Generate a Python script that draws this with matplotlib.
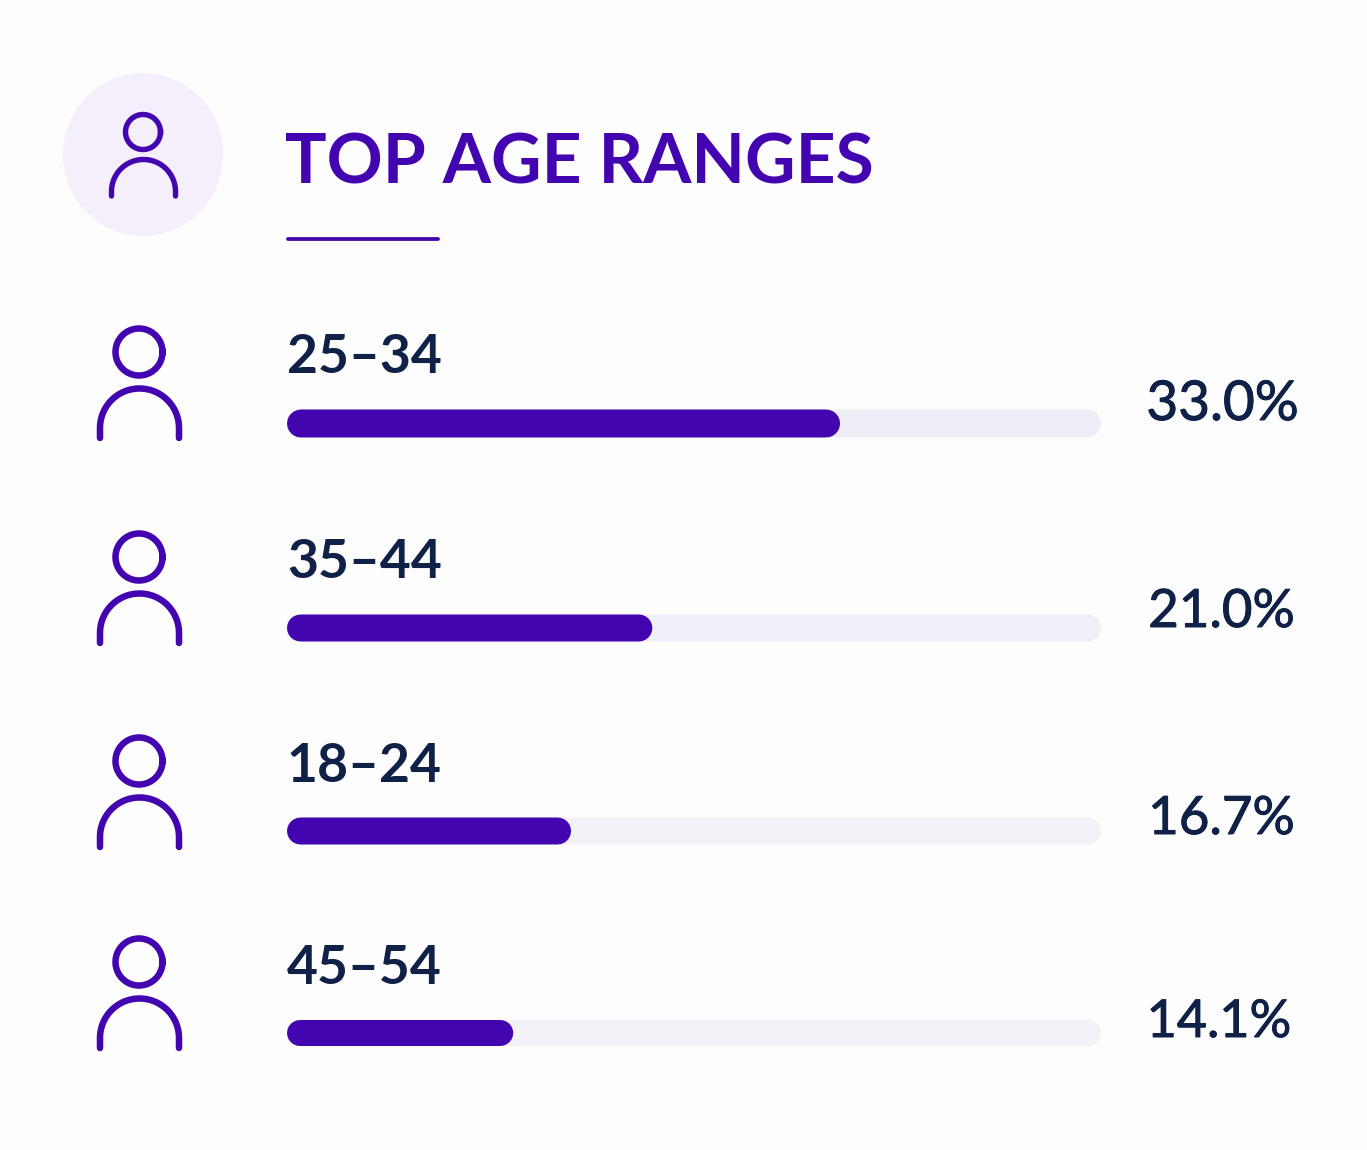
import numpy as np
import matplotlib
matplotlib.use("Agg")
import matplotlib.pyplot as plt
import matplotlib.patheffects as pe

title = "TOP AGE RANGES"
age_ranges = ["25–34", "35–44", "18–24", "45–54"]
pct_labels = ["33.0%", "21.0%", "16.7%", "14.1%"]
# bar lengths as drawn in the picture, in percent (they do not quite follow the labels)
bar_lengths = [33.0, 21.8, 16.95, 13.5]
track_max = 48.57

W, H = 1367, 1150
PURPLE = "#4205b0"
NAVY = "#0f2147"
BG = "#fdfdfd"
# lw in points from pixels
px = 72 / 100

# layout, in pixels of the picture
bar_y = [423.5, 628, 831, 1033]
bar_h = [28, 27, 27, 26]
track_col = ["#eeecf5", "#f0eef6", "#f3f2f8", "#f3f2f8"]
head_y = [352, 557, 761, 962]
label_y = [373, 578, 782, 984]
value_y = [420, 627, 834, 1037]
value_x = [1222.5, 1221.5, 1221.5, 1219]
value_size = [39.5, 38, 38, 37.5]

fig = plt.figure(figsize=(W / 100, H / 100), dpi=100, facecolor=BG)

# canvas in pixel coords for icons and text
ax = fig.add_axes([0, 0, 1, 1])
ax.set_xlim(0, W)
ax.set_ylim(H, 0)
ax.axis("off")


def person(cx, cy, head_r, body_r, body_top, leg_end, lw):
    t = np.linspace(0, 2 * np.pi, 100)
    ax.plot(cx + head_r * np.cos(t), cy + head_r * np.sin(t), color=PURPLE, lw=lw * px)
    t = np.linspace(np.pi, 2 * np.pi, 60)
    bx = cx + 0.5 + body_r * np.cos(t)
    by = body_top + body_r + body_r * np.sin(t)
    bx = np.r_[bx[0], bx, bx[-1]]
    by = np.r_[leg_end, by, leg_end]
    ax.plot(bx, by, color=PURPLE, lw=lw * px, solid_capstyle="round")


# header
t = np.linspace(0, 2 * np.pi, 200)
ax.fill(143 + 80 * np.cos(t), 154.5 + 81.5 * np.sin(t), color="#f4effb", lw=0)
person(143, 132, 17.5, 32, 159.5, 196, 5.4)
ax.text(285, 183, title, color=PURPLE, fontsize=50, fontfamily="Lato",
        fontweight="bold", va="baseline", ha="left")
ax.plot([288, 438], [239, 239], color=PURPLE, lw=3.8 * px, solid_capstyle="round")

for i in range(4):
    person(139, head_y[i], 23.5, 39.5, head_y[i] + 36.5, head_y[i] + 86, 6.5)
    ax.text(287, label_y[i], age_ranges[i], color=NAVY, fontsize=38.5, fontfamily="Lato",
            fontweight="bold", va="baseline", ha="left")
    ax.text(value_x[i], value_y[i], pct_labels[i], color=NAVY, fontsize=value_size[i],
            fontfamily="Lato", va="baseline", ha="center",
            path_effects=[pe.withStroke(linewidth=0.7, foreground=NAVY)])

# bars on their own axes, x in percent
ax_bar = fig.add_axes([287 / W, 0, (1101 - 287) / W, 1])
ax_bar.set_xlim(0, track_max)
ax_bar.set_ylim(H, 0)
ax_bar.axis("off")
ax_bar.patch.set_alpha(0)
px_per_pct = (1101 - 287) / track_max

for i in range(4):
    cap = bar_h[i] / 2 / px_per_pct
    ax_bar.plot([cap, track_max - cap], [bar_y[i], bar_y[i]], color=track_col[i],
                lw=bar_h[i] * px, solid_capstyle="round", snap=False)
    ax_bar.plot([cap, bar_lengths[i] - cap], [bar_y[i], bar_y[i]], color=PURPLE,
                lw=bar_h[i] * px, solid_capstyle="round", snap=False)

fig.savefig("out.png", dpi=100, facecolor=BG)
